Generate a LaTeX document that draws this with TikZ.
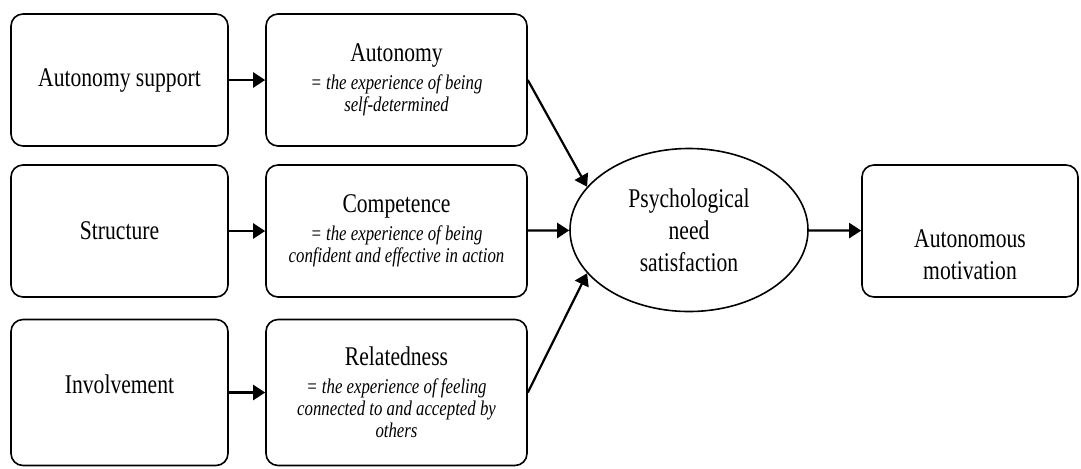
\documentclass[tikz,border=0pt]{standalone}
\usepackage{fontspec}
\setmainfont{Liberation Serif}[FakeStretch=0.8]
\usetikzlibrary{arrows.meta,shapes.geometric,positioning}
\newcommand{\defline}[1]{{\fontsize{10.5}{12}\selectfont\itshape #1}}

\begin{document}
\begin{tikzpicture}
            [>={Triangle[length=6pt,width=7.5pt]},
            x=0.5pt,y=-0.5pt,
            every node/.style={font=\fontsize{13.5}{16}\selectfont,align=center},
            box/.style={draw,line width=0.8pt,rounded corners=6pt,minimum width=108.5pt,minimum height=66pt,inner sep=2pt},
            defbox/.style={box,minimum width=130.5pt},
            need/.style={ellipse,draw,line width=0.8pt,minimum width=119pt,minimum height=81.5pt,inner sep=0pt},
            link/.style={->,line width=1.1pt}
            ]
            \useasboundingbox (0,0) rectangle (1081,468);
            % left column
            \node[box] (support) at (119.5,80) {Autonomy support};
            \node[box] (structure) at (119.5,231) {Structure};
            \node[box,minimum height=73pt] (involvement) at (119.5,392.5) {Involvement\\[-8pt]\mbox{}};
            % needs
            \node[defbox] (autonomy) at (396.5,80) {Autonomy\\[-2pt]\defline{= the experience of being}\\[-5pt]\defline{self-determined}};
            \node[defbox] (competence) at (396.5,231) {Competence\\[-2pt]\defline{= the experience of being}\\[-5pt]\defline{confident and effective in action}};
            \node[defbox,minimum height=73pt] (relatedness) at (396.5,392.5) {Relatedness\\[-2pt]\defline{= the experience of feeling}\\[-5pt]\defline{connected to and accepted by}\\[-5pt]\defline{others}};
            \node[need] (satisfaction) at (689,230) {Psychological\\need\\satisfaction};
            \node[box,minimum width=108pt] (motivation) at (970,231) {\mbox{}\\[17pt]Autonomous\\motivation};
            \draw[link] (support) -- (autonomy);
            \draw[link] (structure) -- (competence);
            \draw[link] (involvement) -- (relatedness);
            \draw[link] (autonomy.east) -- (satisfaction.157);
            \draw[link] (competence) -- (satisfaction);
            \draw[link] (relatedness.east) -- (satisfaction.203);
            \draw[link] (satisfaction) -- (motivation);
          \end{tikzpicture}
\end{document}
